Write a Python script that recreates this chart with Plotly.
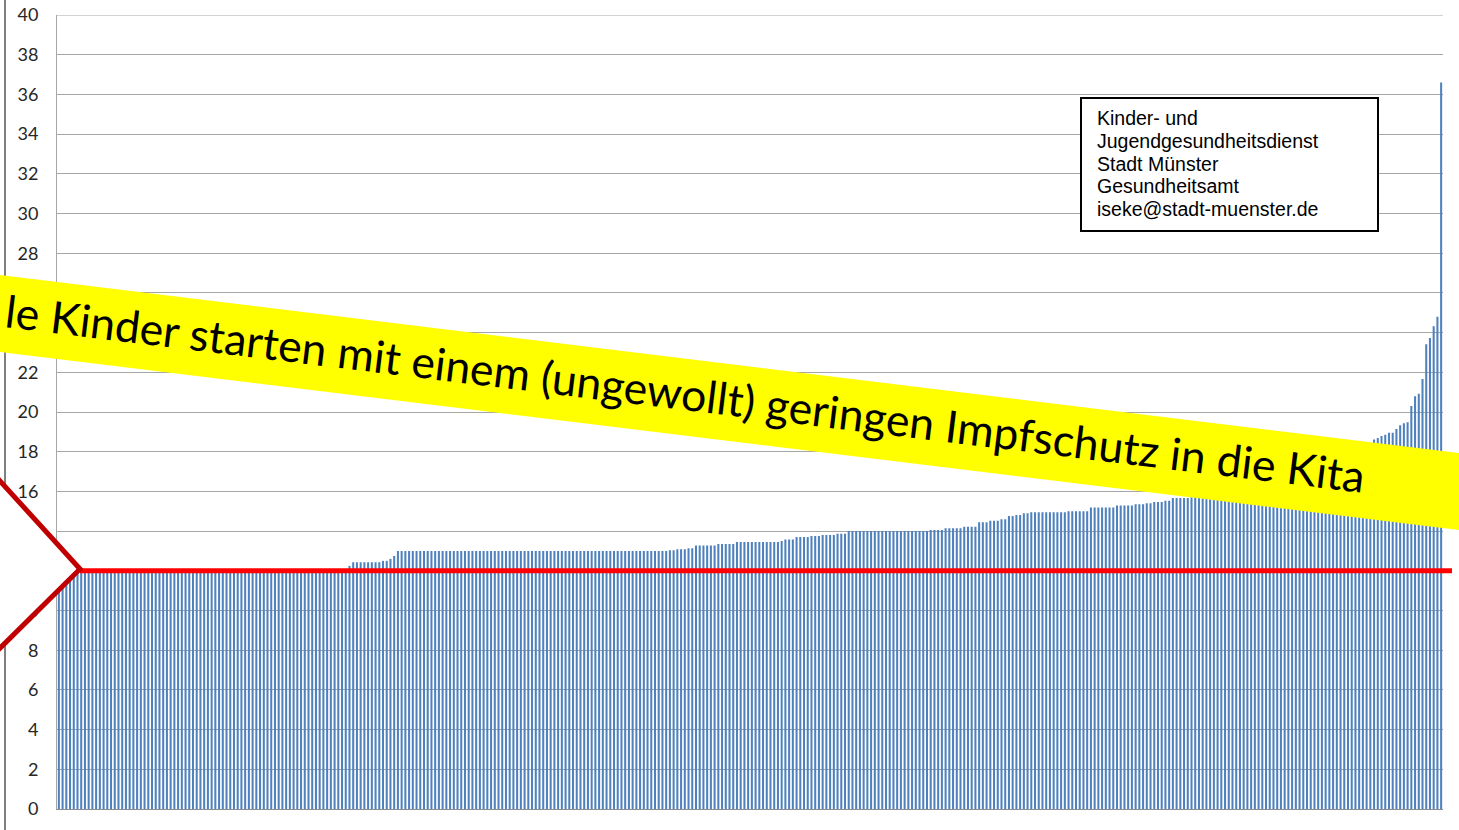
import math
import plotly.graph_objects as go

# ---- data -------------------------------------------------------------
# sorted values (one bar per child / group), given as runs of equal values
run_values = [12.0, 12.25, 12.43, 12.5, 12.6, 12.75, 13.0, 13.03, 13.08, 13.13,
              13.27, 13.35, 13.45, 13.5, 13.58, 13.7, 13.75, 13.8, 13.87, 14.0,
              14.06, 14.14, 14.22, 14.44, 14.52, 14.6, 14.76, 14.81, 14.9, 14.95,
              15.0, 15.19, 15.29, 15.35, 15.4, 15.46, 15.53, 15.67]
run_counts = [78, 1, 8, 2, 1, 1, 73, 2, 3, 2,
              6, 5, 12, 1, 3, 4, 3, 4, 3, 22,
              4, 5, 4, 3, 3, 2, 2, 2, 2, 10,
              6, 7, 5, 3, 2, 3, 2, 5]
# bars hidden behind the banner (estimated)
hidden_values = [15.7, 15.72, 15.75, 15.78, 15.8, 15.83, 15.86, 15.9, 15.93, 15.96,
                 16.0, 16.0, 16.05, 16.1, 16.12, 16.15, 16.2, 16.25, 16.3, 16.33,
                 16.38, 16.42, 16.47, 16.5, 16.55, 16.6, 16.66, 16.72, 16.78, 16.84,
                 16.9, 16.96, 17.02, 17.08, 17.15, 17.2, 17.27, 17.33, 17.4, 17.48,
                 17.55, 17.63, 17.72, 17.8, 17.9, 18.0, 18.15, 18.3, 18.45]
tail_values = [18.62, 18.69, 18.79, 18.86, 18.96, 18.96, 19.14, 19.33, 19.43, 19.48,
               20.3, 20.79, 20.92, 21.66, 23.41, 23.73, 24.32, 24.8, 36.6]

threshold = 12
y_max = 40
y_ticks = list(range(0, 41, 2))
banner_text = "le Kinder starten mit einem (ungewollt) geringen Impfschutz in die Kita"
info_lines = ["Kinder- und", "Jugendgesundheitsdienst", "Stadt Münster",
              "Gesundheitsamt", "iseke@stadt-muenster.de"]

values = []
for v, c in zip(run_values, run_counts):
    values += [v] * c
values += hidden_values + tail_values
idx = list(range(len(values)))

# ---- geometry helpers (pixel -> paper) --------------------------------
W, H = 1459, 830
L, R, T, B = 57, 1443, 15, 809
def px(x):
    return (x - L) / (R - L)
def py(y):
    return (B - y) / (B - T)

fig = go.Figure(go.Bar(x=idx, y=values, marker_color="#4F81BD",
                       marker_line_width=0, hoverinfo="skip"))

grid_col = "#A6A6A6"
shapes = []
# top gridline (at 40)
shapes.append(dict(type="line", xref="paper", yref="y", x0=0, x1=1,
                   y0=y_max, y1=y_max, line=dict(color=grid_col, width=1)))
# left slide border line
shapes.append(dict(type="line", xref="paper", yref="paper",
                   x0=px(5), x1=px(5), y0=py(0), y1=py(830),
                   line=dict(color="#7F7F7F", width=2), layer="above"))
# red threshold line
shapes.append(dict(type="line", xref="paper", yref="y",
                   x0=px(80), x1=px(1452), y0=threshold, y1=threshold,
                   line=dict(color="#FF0000", width=5), layer="above"))
# white chevron with dark-red border
chev = [(-10, 470), (80, 569), (-10, 658)]
path = "M {} {} L {} {} L {} {} Z".format(
    px(chev[0][0]), py(chev[0][1]), px(chev[1][0]), py(chev[1][1]),
    px(chev[2][0]), py(chev[2][1]))
shapes.append(dict(type="path", xref="paper", yref="paper", path=path,
                   fillcolor="white", line=dict(color="#C00000", width=5),
                   layer="above"))
# yellow banner
slope = 0.122
ban = [(-10, 275 - 10 * slope), (1462, 275 + 1462 * slope),
       (1459, 352 + 1459 * slope), (-10, 352 - 10 * slope)]
path = "M " + " L ".join("{} {}".format(px(a), py(b)) for a, b in ban) + " Z"
shapes.append(dict(type="path", xref="paper", yref="paper", path=path,
                   fillcolor="#FFFF00", line=dict(width=0), layer="above"))
# info box
shapes.append(dict(type="rect", xref="paper", yref="paper",
                   x0=px(1081), x1=px(1378), y0=py(231), y1=py(98),
                   fillcolor="white", line=dict(color="black", width=2),
                   layer="above"))

annotations = [
    dict(xref="paper", yref="paper", x=px(685), y=py(392),
         text=banner_text, showarrow=False, textangle=math.degrees(math.atan(slope)),
         xanchor="center", yanchor="middle",
         font=dict(family="Lato", size=44.5, color="black")),
]
line_y = [118, 140.8, 163.5, 186.2, 209]
for txt, yy in zip(info_lines, line_y):
    annotations.append(dict(xref="paper", yref="paper", x=px(1095), y=py(yy),
                            text=txt, showarrow=False, align="left",
                            xanchor="left", yanchor="middle",
                            font=dict(family="Liberation Sans, Arial", size=19.5,
                                      color="black")))

fig.update_layout(
    width=W, height=H,
    margin=dict(l=L, r=W - R, t=T, b=H - B, pad=0, autoexpand=False),
    paper_bgcolor="white", plot_bgcolor="white",
    showlegend=False, bargap=0.45,
    shapes=shapes, annotations=annotations,
    xaxis=dict(range=[-0.5, len(values) - 0.5], showticklabels=False,
               showgrid=False, zeroline=False, showline=True, automargin=False,
               linecolor="#8C8C8C", linewidth=1, ticks=""),
    yaxis=dict(range=[0, y_max], tickvals=y_ticks, showgrid=True, automargin=False,
               gridcolor=grid_col, gridwidth=1, zeroline=False,
               showline=True, linecolor=grid_col, linewidth=1, ticks="",
               ticklabelstandoff=14,
               tickfont=dict(family="Lato", size=18, color="#262626")),
)

fig.write_html("out.html", config={"displayModeBar": False},
               post_script="document.body.style.margin='0px';document.body.style.overflow='hidden';")
